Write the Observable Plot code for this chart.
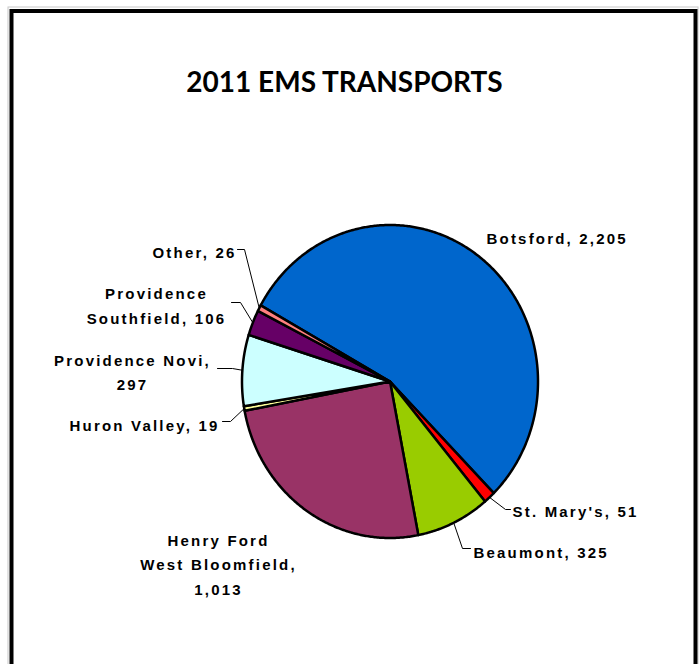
<!DOCTYPE html>
<html>
<head>
<meta charset="utf-8">
<script src="https://cdn.jsdelivr.net/npm/d3@7"></script>
<script src="https://cdn.jsdelivr.net/npm/@observablehq/plot@0.6"></script>
<style>
  html, body { margin: 0; padding: 0; background: #fff; }
</style>
</head>
<body>
<div id="chart"></div>
<script>
// ---- data ----
const title = "2011 EMS TRANSPORTS";
const categories = ["Botsford", "St. Mary's", "Beaumont", "Henry Ford West Bloomfield", "Huron Valley", "Providence Novi", "Providence Southfield", "Other"];
const values = [2205, 51, 325, 1013, 19, 297, 106, 26];
const colors = ["#0066CC", "#FF0000", "#99CC00", "#993366", "#FFFF99", "#CCFFFF", "#660066", "#FF8080"];
const labels = [
  "Botsford, 2,205",
  "St. Mary's, 51",
  "Beaumont, 325",
  "Henry Ford\nWest Bloomfield,\n1,013",
  "Huron Valley, 19",
  "Providence Novi,\n297",
  "Providence\nSouthfield, 106",
  "Other, 26"
];

// ---- layout ----
const W = 699, H = 664;
const cx = 389.5, cy = 381, rx = 148, ry = 156.5;
const startDeg = -60.9;
// label anchor [x, y, textAnchor]
const labelPos = [
  [486, 236, "start"],
  [512, 509, "start"],
  [473, 550, "start"],
  [218, 562, "middle"],
  [219, 423, "end"],
  [132, 369.5, "middle"],
  [156, 303, "middle"],
  [236, 250, "end"]
];
// leader elbows (null = no leader)
const leaderElbows = [
  null,
  [[505, 509], [510, 509]],
  [[462, 548], [470, 548]],
  null,
  [[230, 421], [222, 421]],
  [[232, 368], [217, 368]],
  [[240, 302], [231, 302]],
  [[244, 249], [237, 249]]
];

const total = d3.sum(values);
const rad = d => (d * Math.PI) / 180;
const pt = deg => [cx + rx * Math.sin(rad(deg)), cy - ry * Math.cos(rad(deg))];

let acc = 0;
const slices = values.map((v, i) => {
  const a0 = startDeg + (acc / total) * 360;
  acc += v;
  const a1 = startDeg + (acc / total) * 360;
  const n = Math.max(2, Math.ceil((a1 - a0) / 0.5));
  const pts = [[cx, cy]];
  for (let k = 0; k <= n; k++) pts.push(pt(a0 + ((a1 - a0) * k) / n));
  return { name: categories[i], color: colors[i], pts, mid: (a0 + a1) / 2 };
});

const sliceMarks = slices.map(s =>
  Plot.line(s.pts, {
    x: d => d[0], y: d => d[1],
    curve: "linear-closed",
    fill: s.color, stroke: "black", strokeWidth: 2.5, strokeLinejoin: "round"
  })
);

const leaderMarks = slices.map((s, i) => {
  if (!leaderElbows[i]) return null;
  const p = [pt(s.mid), ...leaderElbows[i]];
  return Plot.line(p, { x: d => d[0], y: d => d[1], stroke: "black", strokeWidth: 1 });
}).filter(Boolean);

const labelData = labels.map((t, i) => ({ t, x: labelPos[i][0], y: labelPos[i][1], a: labelPos[i][2] }));
const labelMarks = ["start", "middle", "end"].map(anchor =>
  Plot.text(labelData.filter(d => d.a === anchor), {
    x: "x", y: "y", text: "t", textAnchor: anchor,
    fontSize: 15, fontWeight: "bold", fontFamily: "Liberation Sans, Arial, sans-serif",
    lineHeight: 1.66, fill: "black"
  })
);

const chart = Plot.plot({
  width: W, height: H,
  margin: 0,
  x: { domain: [0, W], range: [0, W], axis: null },
  y: { domain: [0, H], range: [0, H], axis: null },
  style: { background: "white" },
  marks: [
    Plot.frame({ stroke: "#c8c8c8", strokeWidth: 1, insetLeft: 7.5, insetTop: 6.5, insetRight: 1.5, insetBottom: -20 }),
    Plot.frame({ stroke: "black", strokeWidth: 4, insetLeft: 11, insetTop: 10.5, insetRight: 4, insetBottom: -20 }),
    Plot.text([title], {
      x: () => 344, y: () => 83, text: d => d,
      fontSize: 28, fontWeight: "bold", fontFamily: "Lato, 'Open Sans', sans-serif", fill: "black"
    }),
    ...sliceMarks,
    ...leaderMarks,
    ...labelMarks
  ]
});

// letter-spacing for data labels to mimic the reference rendering
d3.select(chart).selectAll("g[font-size='15']").attr("letter-spacing", "2.2px");

document.getElementById("chart").appendChild(chart);
</script>
</body>
</html>
